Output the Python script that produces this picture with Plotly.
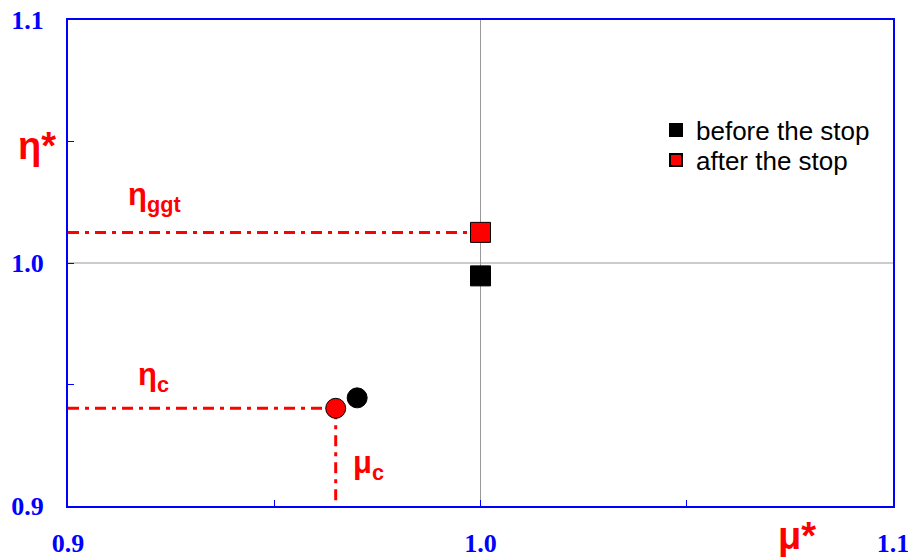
import plotly.graph_objects as go

# Operating points (mu*, eta*)
series_names = ["before the stop", "after the stop"]
series_colors = ["#000000", "#ff0000"]
mu_values = [[1.0, 0.9701], [1.0, 0.9649]]
eta_values = [[0.9947, 0.9445], [1.0126, 0.9402]]
point_symbols = ["square", "circle"]

# Axis settings
axis_min, axis_max = 0.9, 1.1
ref_value = 1.0
tick_vals = [0.9, 0.95, 1.0, 1.05, 1.1]
tick_text = ["0.9", "", "1.0", "", "1.1"]

# Reference points taken from the "after the stop" series
eta_ggt = eta_values[1][0]
mu_c, eta_c = mu_values[1][1], eta_values[1][1]

BLUE = "#0000ff"
RED = "#ff0000"
LABEL_FONT = "Liberation Sans, Arial, sans-serif"
TICK_FONT = "Liberation Serif, Times New Roman, serif"
DASH = "11px,6px,4px,6px"

W, H = 908, 557
ML, MR, MT, MB = 68, 15, 20, 51


def px_to_paper(px, py):
    return (px - ML) / (W - ML - MR), (H - MB - py) / (H - MB - MT)


fig = go.Figure()

# Guide lines (dash-dot) from the axes to the red points
fig.add_trace(go.Scatter(x=[axis_min, mu_values[1][0]], y=[eta_ggt, eta_ggt], mode="lines",
                         line=dict(color=RED, width=3, dash=DASH), showlegend=False, hoverinfo="skip"))
fig.add_trace(go.Scatter(x=[axis_min, mu_c], y=[eta_c, eta_c], mode="lines",
                         line=dict(color=RED, width=3, dash=DASH), showlegend=False, hoverinfo="skip"))
fig.add_trace(go.Scatter(x=[mu_c, mu_c], y=[eta_c, axis_min], mode="lines",
                         line=dict(color=RED, width=3, dash=DASH), showlegend=False, hoverinfo="skip"))

# Data points, each series in its own legend box
legend_ids = ["legend", "legend2"]
for name, color, xs, ys, lg in zip(series_names, series_colors, mu_values, eta_values, legend_ids):
    fig.add_trace(go.Scatter(
        x=xs, y=ys, mode="markers", name=name, legend=lg,
        marker=dict(symbol=point_symbols, size=20, color=color,
                    line=dict(color="#000000", width=1)),
    ))

# Gray reference lines at 1.0
fig.add_shape(type="line", xref="x", yref="y", x0=ref_value, x1=ref_value, y0=axis_min, y1=axis_max,
              line=dict(color="#999999", width=1), layer="below")
fig.add_shape(type="line", xref="x", yref="y", x0=axis_min, x1=axis_max, y0=ref_value, y1=ref_value,
              line=dict(color="#999999", width=1), layer="below")

axis_common = dict(
    range=[axis_min, axis_max], tickmode="array", tickvals=tick_vals, ticktext=tick_text,
    ticks="inside", ticklen=6, tickwidth=1, tickcolor=BLUE,
    showline=True, linecolor=BLUE, linewidth=2, mirror=True,
    showgrid=False, zeroline=False, automargin=False, ticklabeloverflow="allow",
    tickfont=dict(family=TICK_FONT, size=26, color=BLUE, weight="bold"),
)
fig.update_xaxes(**axis_common, ticklabelstandoff=13)
fig.update_yaxes(**axis_common, ticklabelstandoff=17)

label_style = dict(family=LABEL_FONT, size=38, color=RED)
sub_style = dict(family=LABEL_FONT, size=31, color=RED)
annotations = [
    dict(x=37, y=146, text="<b>η*</b>", font=label_style),
    dict(x=797, y=536, text="<b>μ*</b>", font=label_style),
    dict(x=154, y=197, text="<b>η<sub>ggt</sub></b>", font=sub_style),
    dict(x=153, y=377, text="<b>η<sub>c</sub></b>", font=sub_style),
    dict(x=368, y=465, text="<b>μ<sub>c</sub></b>", font=sub_style),
]
for a in annotations:
    a["x"], a["y"] = px_to_paper(a["x"], a["y"])
    a.update(xref="paper", yref="paper", showarrow=False,
             xanchor="center", yanchor="middle")
fig.update_layout(annotations=annotations)

legend_font = dict(family=LABEL_FONT, size=26, color="#000000")
lx1, ly1 = px_to_paper(656, 130)
lx2, ly2 = px_to_paper(656, 160)
fig.update_layout(
    width=W, height=H,
    margin=dict(l=ML, r=MR, t=MT, b=MB, autoexpand=False),
    paper_bgcolor="white", plot_bgcolor="white",
    legend=dict(x=lx1, y=ly1, xanchor="left", yanchor="middle", font=legend_font,
                bgcolor="rgba(0,0,0,0)", itemsizing="constant"),
    legend2=dict(x=lx2, y=ly2, xanchor="left", yanchor="middle", font=legend_font,
                 bgcolor="rgba(0,0,0,0)", itemsizing="constant"),
)

fig.write_html("out.html")
